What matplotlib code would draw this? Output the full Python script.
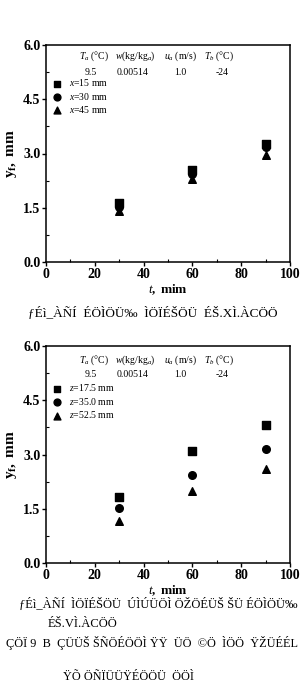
import numpy as np
import matplotlib
matplotlib.use('Agg')
import matplotlib.pyplot as plt
from matplotlib.ticker import MultipleLocator

plt.rcParams['font.family'] = ['Liberation Serif', 'DejaVu Serif']
plt.rcParams['mathtext.fontset'] = 'custom'
plt.rcParams['mathtext.rm'] = 'Liberation Serif'
plt.rcParams['mathtext.it'] = 'Liberation Serif:italic'
plt.rcParams['mathtext.bf'] = 'Liberation Serif:bold'

# time, min
t = [30, 60, 90]

# top panel: different x positions
top_labels = ['$x$=15 mm', '$x$=30 mm', '$x$=45 mm']
top_x15 = [1.63, 2.54, 3.26]
top_x30 = [1.52, 2.43, 3.17]
top_x45 = [1.42, 2.30, 2.96]

# bottom panel: different z positions
bot_labels = ['$z$=17.5 mm', '$z$=35.0 mm', '$z$=52.5 mm']
bot_z175 = [1.82, 3.11, 3.81]
bot_z350 = [1.52, 2.42, 3.15]
bot_z525 = [1.15, 1.98, 2.60]

# conditions table
heads = ['$T_a$ (°C)', '$w$(kg/kg$_a$)', '$u_a$ (m/s)', '$T_b$ (°C)']
vals = ['9.5', '0.00514', '1.0', '-24']
head_x = [19.5, 36.5, 55, 71]
val_x = [18.5, 35.5, 55, 72]

markers = ['s', 'o', '^']

# captions (as printed, broken encoding)
cap1 = 'ƒÉì_ÀÑÍ  ÉÖÌÖÜ‰  ÌÖÏÉŠÖÜ  ÉŠ.XÌ.ÀCÖÖ'
cap2 = ['ƒÉì_ÀÑÍ  ÌÖÏÉŠÖÜ  ÚÌÚÜÖÌ ÖŽÖÉÜŠ ŠÜ ÉÖÌÖÜ‰',
        'ÉŠ.VÌ.ÀCÖÖ',
        'ÇÖÏ 9  B  ÇÜÜŠ ŠÑÖÉÖÖÌ ŸŸ  ÜÖ  ©Ö  ÌÖÖ  ŸŽÜÉÉL',
        'ŸÕ ÖÑÏÜÜŸÉÖÖÜ  ÖÖÌ']

fig = plt.figure(figsize=(3.05, 6.85), dpi=100)
W, H = 305, 685
ax1 = fig.add_axes([46 / W, 1 - 262 / H, 244 / W, 217 / H])
ax2 = fig.add_axes([46 / W, 1 - 563 / H, 244 / W, 217 / H])


def panel(ax, series, labels, head_y, val_y, leg_y):
    hs = []
    for ys, m, lab in zip(series, markers, labels):
        ms = 26 if m == 's' else 30
        hs.append(ax.scatter(t, ys, marker=m, s=ms, c='black', label=lab, zorder=3))
    ax.set_xlim(0, 100)
    ax.set_ylim(0, 6)
    ax.xaxis.set_major_locator(MultipleLocator(20))
    ax.xaxis.set_minor_locator(MultipleLocator(10))
    ax.yaxis.set_major_locator(MultipleLocator(1.5))
    ax.yaxis.set_minor_locator(MultipleLocator(0.75))
    ax.set_yticklabels(['%.1f' % v for v in ax.get_yticks()])
    ax.tick_params(which='major', direction='out', length=3, width=1, labelsize=10, pad=1)
    ax.tick_params(which='minor', direction='in', length=2, width=0.8)
    for lab in ax.get_xticklabels() + ax.get_yticklabels():
        lab.set_fontweight('bold')
    for sp in ax.spines.values():
        sp.set_linewidth(1.1)
    for h, x in zip(heads, head_x):
        ax.text(x, head_y, h, ha='center', va='center', fontsize=7)
    for v, x in zip(vals, val_x):
        ax.text(x, val_y, v, ha='center', va='center', fontsize=7)
    ax.legend(handles=hs, loc='upper left', bbox_to_anchor=(0.005, leg_y),
              frameon=False, fontsize=7, handletextpad=0.6, labelspacing=0.25,
              borderaxespad=0, markerscale=0.9, handlelength=1.2)
    ax.set_ylabel('$\\mathbf{y}_{\\mathbf{f}}$$\\mathbf{,\\ mm}$', fontsize=11, labelpad=3)
    ax.set_xlabel('$\\mathbf{\\it{t}}$$\\mathbf{,\\ mim}$', fontsize=9.5, labelpad=1)


panel(ax1, [top_x15, top_x30, top_x45], top_labels, 5.68, 5.24, 0.87)
panel(ax2, [bot_z175, bot_z350, bot_z525], bot_labels, 5.61, 5.20, 0.85)

fig.text(0.5, 1 - 313 / H, cap1, ha='center', va='center', fontsize=9.5)
fig.text(0.52, 1 - 604 / H, cap2[0], ha='center', va='center', fontsize=9)
fig.text(0.27, 1 - 624 / H, cap2[1], ha='center', va='center', fontsize=9)
fig.text(0.5, 1 - 643 / H, cap2[2], ha='center', va='center', fontsize=8.8)
fig.text(0.42, 1 - 677 / H, cap2[3], ha='center', va='center', fontsize=8.8)

fig.savefig('out.png', dpi=100)
